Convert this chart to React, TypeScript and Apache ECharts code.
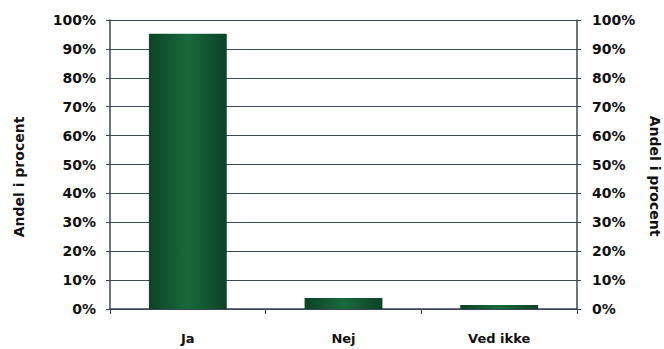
import React, { useEffect, useRef } from "react";
import * as echarts from "echarts";

const categories = ["Ja", "Nej", "Ved ikke"];
const values = [95.2, 3.8, 1.4];
const yTicks = [0, 10, 20, 30, 40, 50, 60, 70, 80, 90, 100];
const axisName = "Andel i procent";

export default function App() {
  const ref = useRef<HTMLDivElement>(null);
  useEffect(() => {
    if (!ref.current) return;
    const chart = echarts.init(ref.current, undefined, { renderer: "svg" });
    const font = "DejaVu Sans";
    const lineColor = "#3d4654";
    const labelStyle = {
      color: "#111",
      fontFamily: font,
      fontWeight: "bold" as const,
      fontSize: 14,
    };
    const yBase = {
      type: "value" as const,
      min: yTicks[0],
      max: yTicks[yTicks.length - 1],
      interval: 10,
      axisLine: { show: true, lineStyle: { color: lineColor, width: 1.5 } },
      axisTick: { show: true, length: 4, lineStyle: { color: lineColor } },
      splitLine: { show: true, lineStyle: { color: lineColor, width: 1.2 } },
    };
    const nameStyle = {
      text: axisName,
      fill: "#111",
      font: `bold 14px "${font}"`,
      align: "center",
      verticalAlign: "middle",
    };
    chart.setOption({
      animation: false,
      backgroundColor: "#fff",
      grid: { left: 110, right: 87, top: 20, bottom: 40, outerBoundsMode: "none", containLabel: false },
      graphic: [
        { type: "text", x: 19, y: 177, rotation: Math.PI / 2, style: nameStyle },
        { type: "text", x: 655, y: 176, rotation: -Math.PI / 2, style: nameStyle },
      ],
      xAxis: {
        type: "category",
        data: categories,
        axisLine: { lineStyle: { color: lineColor, width: 1.5 } },
        axisTick: { show: true, length: 5, lineStyle: { color: lineColor } },
        axisLabel: { ...labelStyle, fontSize: 13, margin: 23 },
      },
      yAxis: [
        {
          ...yBase,
          position: "left",
          axisLabel: { ...labelStyle, margin: 14, formatter: "{value}%" },
        },
        {
          ...yBase,
          position: "right",
          splitLine: { show: false },
          axisLabel: { ...labelStyle, margin: 15, formatter: "{value}%" },
        },
      ],
      series: [
        {
          type: "bar",
          data: values,
          barWidth: "50%",
          itemStyle: {
            color: new echarts.graphic.LinearGradient(0, 0, 1, 0, [
              { offset: 0, color: "#0c4327" },
              { offset: 0.5, color: "#196a3b" },
              { offset: 1, color: "#0c4327" },
            ]),
          },
        },
      ],
    });
    return () => chart.dispose();
  }, []);
  return <div ref={ref} style={{ width: 664, height: 349, position: "absolute", left: 0, top: 0 }} />;
}
